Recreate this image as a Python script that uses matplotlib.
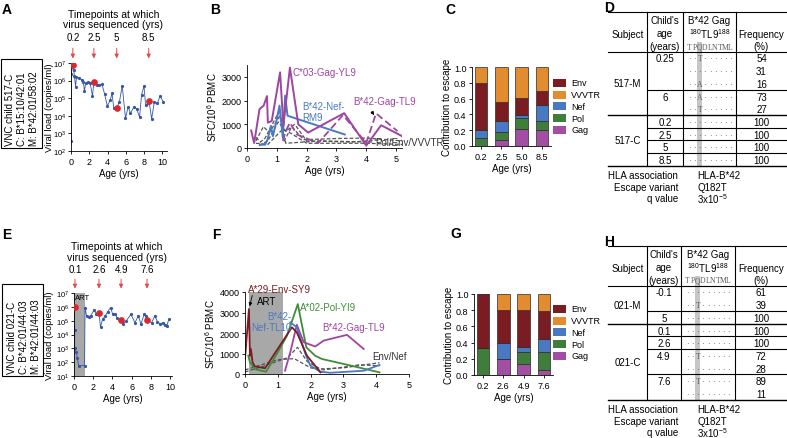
import matplotlib
matplotlib.use('Agg')
import matplotlib.pyplot as plt
import numpy as np
from matplotlib.patches import Rectangle
from matplotlib.ticker import NullLocator

plt.rcParams['font.family'] = ['Liberation Sans', 'DejaVu Sans']
plt.rcParams['font.size'] = 7
plt.rcParams['axes.linewidth'] = 0.6
plt.rcParams['xtick.major.width'] = 0.6
plt.rcParams['ytick.major.width'] = 0.6
plt.rcParams['xtick.major.size'] = 2.5
plt.rcParams['ytick.major.size'] = 2.5
plt.rcParams['xtick.labelsize'] = 6.5
plt.rcParams['ytick.labelsize'] = 6.5
plt.rcParams['xtick.major.pad'] = 1.5
plt.rcParams['ytick.major.pad'] = 1.5
plt.rcParams['axes.labelpad'] = 1.5

W, H = 787, 439

# ---- viral load, child 517-C (log10 copies/ml)
a_age = [0, 0.02, 0.2, 0.3, 0.37, 0.5, 0.6, 0.9, 1.2, 1.36, 1.47, 1.6, 1.84, 2.1, 2.35, 2.5,
         2.83, 3.1, 3.38, 3.68, 3.97, 4.3, 4.49, 4.67, 5.0, 5.3, 5.6, 5.96, 6.25, 6.5, 6.88,
         7.17, 7.5, 7.72, 7.98, 8.16, 8.38, 8.53, 8.82, 9.12, 9.45, 9.74, 10.07]
a_log_vl = [2.55, 6.35, 6.9, 6.6, 6.27, 5.65, 6.2, 6.15, 6.05, 5.9, 5.4, 5.85, 5.9, 5.85, 5.12, 5.9,
            5.75, 5.75, 5.8, 5.23, 4.56, 4.9, 5.27, 4.46, 4.45, 4.8, 5.7, 3.87, 4.5, 4.15, 4.5,
            4.4, 3.94, 5.19, 5.7, 4.6, 4.7, 4.85, 3.83, 4.81, 4.71, 5.12, 4.81]
a_seq_age = [0.2, 2.5, 5.0, 8.5]
a_seq_log_vl = [6.9, 5.9, 4.45, 4.85]
a_seq_labels = ['0.2', '2.5', '5', '8.5']
a_box = ['VNC child 517-C', 'C: B*15:10/42:01', 'M: B*42:01/58:02']

# ---- viral load, child 021-C
e_age = [0.05, 0.07, 0.07, 0.24, 0.34, 0.48, 1.1, 1.15, 1.31, 1.52, 1.72, 2.07, 2.34, 2.6, 2.76,
         2.97, 3.24, 3.52, 3.8, 4.03, 4.28, 4.48, 4.9, 5.1, 5.41, 5.93, 6.34, 6.69, 6.97, 7.31,
         7.52, 7.6, 8.07, 8.41, 8.69, 8.97, 9.24, 9.45, 9.66, 9.86]
e_log_vl = [6.0, 4.3, 3.0, 2.76, 2.3, 1.75, 1.75, 5.95, 5.34, 5.29, 5.34, 5.75, 5.5, 5.58, 4.53,
            5.09, 5.34, 5.66, 5.95, 5.46, 5.5, 5.22, 5.02, 4.77, 4.97, 5.46, 4.85, 5.34, 4.77, 5.46,
            5.34, 5.05, 4.85, 5.34, 4.92, 4.77, 4.85, 4.68, 4.6, 5.09]
e_seq_age = [0.1, 2.6, 4.9, 7.6]
e_seq_log_vl = [6.0, 5.58, 5.02, 5.05]
e_seq_labels = ['0.1', '2.6', '4.9', '7.6']
e_art = [0, 1.15]
e_box = ['VNC child 021-C', 'C: B*42:01/44:03', 'M: B*42:01/44:03']

# ---- ELISpot responses, child 517-C (SFC/10^6 PBMC)
b_c03_gag_age = [0.14, 0.24, 0.42, 0.56, 0.67, 0.7, 0.83, 1.11, 1.22, 1.44, 1.72, 2.05, 3.26, 4.0, 4.5, 5.2]
b_c03_gag_sfc = [740, 210, 1640, 1790, 2190, 1070, 1140, 3190, 930, 3390, 1000, 650, 1470, 100, 960, 500]
b_b42_gag_age = [1.2, 1.3, 1.44, 1.67, 2.39, 3.22, 4.0, 4.33, 5.05]
b_b42_gag_sfc = [300, 710, 1070, 570, 210, 1390, 210, 1460, 710]
b_b42_nef_age = [0.44, 0.61, 0.69, 0.8, 0.87, 1.0, 1.09, 1.2, 1.28, 1.36, 3.28]
b_b42_nef_sfc = [140, 140, 360, 930, 500, 1210, 1790, 430, 2210, 1360, 570]
b_other1_age = [0.3, 0.45, 0.6, 1.1, 1.25, 1.5, 1.9, 3.0, 4.0, 5.2]
b_other1_sfc = [450, 250, 400, 1600, 300, 900, 350, 400, 420, 300]
b_other2_age = [0.3, 0.55, 0.75, 1.1, 1.3, 2.5, 4.2]
b_other2_sfc = [300, 900, 650, 1350, 200, 300, 250]
b_other3_age = [0.4, 0.7, 1.05, 1.3, 1.6, 2.0, 3.5, 4.5]
b_other3_sfc = [100, 300, 1100, 700, 1000, 300, 250, 350]
b_other4_age = [0.3, 0.7, 1.2, 1.5, 2.0, 4.0, 5.2]
b_other4_sfc = [200, 150, 800, 600, 200, 200, 150]

# ---- ELISpot responses, child 021-C
f_a29_env_age = [0, 0.12, 0.15, 0.18, 0.23, 0.3, 0.61, 1.43, 1.58, 1.89, 2.3]
f_a29_env_sfc = [730, 3170, 890, 1220, 570, 370, 280, 2280, 2030, 890, 80]
f_a02_pol_age = [0.1, 0.15, 0.3, 0.64, 0.97, 1.28, 1.61, 1.87, 2.14, 2.35, 3.01, 4.1]
f_a02_pol_sfc = [900, 570, 240, 110, 980, 1870, 3410, 1300, 890, 730, 490, 80]
f_b42_nef_age = [1.38, 1.58, 1.84, 1.99, 2.3, 2.6, 3.62, 4.1]
f_b42_nef_sfc = [2520, 2280, 980, 410, 110, 60, 160, 440]
f_b42_gag_age = [1.22, 1.38, 1.58, 1.79, 2.14, 2.4, 3.11, 3.62]
f_b42_gag_sfc = [160, 1060, 2400, 1550, 1340, 1630, 1910, 1220]
f_other1_age = [0.0, 0.6, 1.3, 1.6, 1.9, 2.3, 3.0, 4.1]
f_other1_sfc = [100, 400, 800, 1300, 600, 250, 300, 550]
f_other2_age = [0.0, 0.6, 1.0, 1.5, 2.0, 2.4, 3.5, 4.1]
f_other2_sfc = [200, 500, 700, 750, 300, 200, 450, 400]
f_art = [0.12, 1.15]

# ---- contribution to escape
genes = ['Gag', 'Pol', 'Nef', 'Env', 'VVVTR']
legend_order = ['Env', 'VVVTR', 'Nef', 'Pol', 'Gag']
gene_colors = {'Env': '#7a1c22', 'VVVTR': '#e38b2f', 'Nef': '#4a79c4',
               'Pol': '#3e7e3a', 'Gag': '#a14ea3'}
c_ages = ['0.2', '2.5', '5.0', '8.5']
c_gag = [0.00, 0.08, 0.22, 0.20]
c_pol = [0.10, 0.10, 0.13, 0.12]
c_nef = [0.10, 0.14, 0.04, 0.20]
c_env = [0.60, 0.24, 0.22, 0.18]
c_vvvtr = [0.20, 0.44, 0.39, 0.30]
g_ages = ['0.2', '2.6', '4.9', '7.6']
g_gag = [0.00, 0.20, 0.13, 0.06]
g_pol = [0.33, 0.00, 0.15, 0.22]
g_nef = [0.00, 0.20, 0.07, 0.17]
g_env = [0.67, 0.40, 0.45, 0.34]
g_vvvtr = [0.00, 0.20, 0.20, 0.21]

# ---- sequence tables ('.' = same as consensus)
consensus = 'TPQDLNTML'
d_subjects = ['517-M', '517-C']
d_ages = [['0.25', '6'], ['0.2', '2.5', '5', '8.5']]
d_seqs = [[['..T......', '.........', '..A......'], ['..A......', '..T......']],
          [['.........'], ['.........'], ['.........'], ['.........']]]
d_freqs = [[[54, 31, 16], [73, 27]], [[100], [100], [100], [100]]]
h_subjects = ['021-M', '021-C']
h_ages = [['-0.1', '5'], ['0.1', '2.6', '4.9', '7.6']]
h_seqs = [[['.........', '..T......'], ['.........']],
          [['.........'], ['.........'], ['..T......', '.........'], ['..T......', '.........']]]
h_freqs = [[[61, 39], [100]], [[100], [100], [72, 28], [89, 11]]]
hla_keys = ['HLA association', 'Escape variant', 'q value']
hla_vals = ['HLA-B*42', 'Q182T', r'3x10$^{\mathdefault{-5}}$']

fig = plt.figure(figsize=(W / 100, H / 100), dpi=100)
fig.patch.set_facecolor('white')


def px_axes(l, t, r, b):
    return fig.add_axes([l / W, 1 - b / H, (r - l) / W, (b - t) / H])


def clean(ax):
    ax.spines['top'].set_visible(False)
    ax.spines['right'].set_visible(False)


ov = fig.add_axes([0, 0, 1, 1])
ov.set_xlim(0, W)
ov.set_ylim(H, 0)
ov.axis('off')

red = '#d8282e'
vl_blue = '#3557a6'


def vl_panel(ax, age, log_vl, seq_age, seq_log, seq_lab, ymin_exp, label_x, art=None):
    clean(ax)
    ax.set_yscale('log')
    if art is not None:
        ax.axvspan(art[0], art[1], color='#a8a8a8', lw=0, zorder=0)
        ax.text(art[0] + 0.1, 10 ** 6.7, 'ART', fontsize=5.5, va='center')
    ax.plot(age, 10 ** np.array(log_vl), color=vl_blue, lw=0.6, marker='o', ms=1.3, zorder=2)
    ax.plot(seq_age, 10 ** np.array(seq_log), 'o', color=red, ms=3.8, zorder=3)
    ax.set_ylim(10.0 ** ymin_exp, 1e7)
    ax.set_yticks([10.0 ** k for k in range(ymin_exp, 8)])
    ax.yaxis.set_minor_locator(NullLocator())
    ax.tick_params(axis='y', labelsize=5.5, pad=1)
    ax.set_xticks([0, 2, 4, 6, 8, 10])
    ax.set_xlabel('Age (yrs)')
    ax.set_ylabel('Viral load (copies/ml)', fontsize=6.8)
    ax.yaxis.set_label_coords(label_x, 0.5)
    tr = ax.get_xaxis_transform()
    for t, lab in zip(seq_age, seq_lab):
        ax.annotate('', xy=(t, 1.02), xycoords=tr, xytext=(t, 1.2), textcoords=tr,
                    arrowprops=dict(arrowstyle='-|>', color='#e04a4e', lw=0.7, mutation_scale=6),
                    annotation_clip=False)
        ax.text(t, 1.29, lab, transform=tr, ha='center', va='center', fontsize=7)
    ax.text(0.44, 1.5, 'Timepoints at which\nvirus sequenced (yrs)', transform=ax.transAxes,
            ha='center', va='center', fontsize=7.5, linespacing=1.05)


axA = px_axes(71, 64, 167, 152)
axA.set_xlim(0, 10.5)
vl_panel(axA, a_age, a_log_vl, a_seq_age, a_seq_log_vl, a_seq_labels, 2, -0.18)
axE = px_axes(74, 294, 172, 377)
axE.set_xlim(0, 10.2)
vl_panel(axE, e_age, e_log_vl, e_seq_age, e_seq_log_vl, e_seq_labels, 1, -0.2, art=e_art)


def id_box(x0, y0, y1, lines, xs):
    ov.add_patch(Rectangle((x0, y0), 41, y1 - y0, fill=False, ec='black', lw=0.8))
    for x, s in zip(xs, lines):
        ov.text(x, y1 - 3, s, rotation=90, rotation_mode='anchor', ha='left', va='center', fontsize=7)


id_box(1, 60, 149, a_box, [10, 22, 34])
id_box(2, 285, 377, e_box, [12, 24, 36])

purple = '#9e45a0'
nef_blue = '#4a79c4'
gray = '#555555'
dash = (3, 1.6)

# ---- B
axB = px_axes(247, 66, 402, 149)
clean(axB)
for xs, ys in [(b_other1_age, b_other1_sfc), (b_other2_age, b_other2_sfc),
               (b_other3_age, b_other3_sfc), (b_other4_age, b_other4_sfc)]:
    axB.plot(xs, ys, color=gray, lw=0.9, dashes=dash)
axB.plot(b_b42_gag_age, b_b42_gag_sfc, color=purple, lw=1.3, dashes=(4, 2))
axB.plot(b_b42_nef_age, b_b42_nef_sfc, color=nef_blue, lw=1.4)
axB.plot(b_c03_gag_age, b_c03_gag_sfc, color=purple, lw=1.4)
axB.set_xlim(0, 5.2)
axB.set_ylim(0, 3500)
axB.set_xticks([0, 1, 2, 3, 4, 5])
axB.set_yticks([0, 1000, 2000, 3000])
axB.set_xlabel('Age (yrs)')
axB.set_ylabel(r'SFC/10$^{\mathdefault{6}}$ PBMC')
axB.text(1.52, 3200, 'C*03-Gag-YL9', color=purple, fontsize=7, va='center')
axB.text(1.85, 1550, 'B*42-Nef-\nRM9', color=nef_blue, fontsize=7, va='center', linespacing=1.1)
axB.text(3.56, 1970, 'B*42-Gag-TL9', color=purple, fontsize=7, va='center', clip_on=False)
axB.text(4.3, 260, 'Pol/Env/VVVTR', color='#333333', fontsize=7, va='center', clip_on=False)
axB.annotate('', xy=(4.32, 1290), xytext=(4.13, 1630),
             arrowprops=dict(arrowstyle='-|>', color='black', lw=0.6, mutation_scale=5))

# ---- F
axF = px_axes(245, 293, 409, 375)
clean(axF)
axF.axvspan(f_art[0], f_art[1], color='#a8a8a8', lw=0, zorder=0)
for xs, ys in [(f_other1_age, f_other1_sfc), (f_other2_age, f_other2_sfc)]:
    axF.plot(xs, ys, color=gray, lw=0.9, dashes=dash)
axF.plot(f_a02_pol_age, f_a02_pol_sfc, color='#3f8d39', lw=1.3)
axF.plot(f_b42_gag_age, f_b42_gag_sfc, color=purple, lw=1.3)
axF.plot(f_b42_nef_age, f_b42_nef_sfc, color=nef_blue, lw=1.3)
axF.plot(f_a29_env_age, f_a29_env_sfc, color='#7a1c22', lw=1.3)
axF.set_xlim(0, 5)
axF.set_ylim(0, 4000)
axF.set_xticks([0, 1, 2, 3, 4, 5])
axF.set_yticks([0, 1000, 2000, 3000, 4000])
axF.set_xlabel('Age (yrs)')
axF.set_ylabel(r'SFC/10$^{\mathdefault{6}}$ PBMC')
axF.text(0.1, 4150, 'A*29-Env-SY9', color='#7a1c22', fontsize=7, va='center', clip_on=False)
axF.text(0.37, 3560, 'ART', color='black', fontsize=7, va='center')
axF.text(1.42, 2560, 'B*42-\nNef-TL10', color=nef_blue, fontsize=7, va='center', ha='right',
         multialignment='right', linespacing=1.1)
axF.text(1.68, 3270, 'A*02-Pol-YI9', color='#3f8d39', fontsize=7, va='center')
axF.text(2.35, 2290, 'B*42-Gag-TL9', color=purple, fontsize=7, va='center')
axF.text(3.88, 880, 'Env/Nef', color='#333333', fontsize=7, va='center', clip_on=False)
axF.annotate('', xy=(0.12, 3170), xytext=(0.24, 3960),
             arrowprops=dict(arrowstyle='-|>', color='black', lw=0.6, mutation_scale=5),
             annotation_clip=False)


# ---- C and G
def escape_panel(ax, ages, parts):
    clean(ax)
    x = np.arange(len(ages))
    bottom = np.zeros(len(ages))
    for g in genes:
        vals = np.array(parts[g])
        ax.bar(x, vals, bottom=bottom, width=0.62, color=gene_colors[g], edgecolor='#2a2a2a', lw=0.5)
        bottom += vals
    ax.set_xlim(-0.45, 3.45)
    ax.set_ylim(0, 1)
    ax.set_xticks(x, labels=ages)
    ax.set_yticks(np.linspace(0, 1, 6), labels=['0.0', '0.2', '0.4', '0.6', '0.8', '1.0'])
    ax.set_xlabel('Age (yrs)')
    ax.set_ylabel('Contribution to escape')


axC = px_axes(472, 68, 551, 147)
escape_panel(axC, c_ages, {'Gag': c_gag, 'Pol': c_pol, 'Nef': c_nef, 'Env': c_env, 'VVVTR': c_vvvtr})
axG = px_axes(474, 295, 553, 376)
escape_panel(axG, g_ages, {'Gag': g_gag, 'Pol': g_pol, 'Nef': g_nef, 'Env': g_env, 'VVVTR': g_vvvtr})


def gene_legend(y0):
    for i, g in enumerate(legend_order):
        y = y0 + i * 11.7
        ov.add_patch(Rectangle((553, y - 4), 13, 8, fc=gene_colors[g], ec='none'))
        ov.text(571, y, g, fontsize=6.5, va='center')


gene_legend(84)
gene_legend(310)


# ---- tables
def seq_table(top, xs, xf, subjects, ages, seqs, freqs):
    rh = 12.7
    x0, x1, x4 = 608, 647, 787
    hb = top + 39.5
    nsub = sum(len(s) for grp in seqs for s in grp)
    bot = hb + nsub * rh
    cw = 5.1
    sx = xs + 4
    ov.add_patch(Rectangle((sx + 2 * cw, top + 30), cw, bot - top - 30, fc='#c6c6c6', ec='none', zorder=0))
    ov.plot([x0, x4], [top, top], color='black', lw=0.8)
    ov.plot([x0, x4], [hb, hb], color='black', lw=0.8)
    for x in (x1, xs, xf):
        ov.plot([x, x], [top, bot], color='black', lw=0.8)
    ov.text((x0 + x1) / 2, top + 22, 'Subject', ha='center', va='center')
    for k, s in enumerate(["Child's", 'age', '(years)']):
        ov.text((x1 + xs) / 2, top + 8 + 13 * k, s, ha='center', va='center')
    ov.text((xs + xf) / 2, top + 8, 'B*42 Gag', ha='center', va='center')
    ov.text((xs + xf) / 2, top + 21, r'$^{\mathdefault{180}}$TL9$^{\mathdefault{188}}$',
            ha='center', va='center')
    for i, ch in enumerate(consensus):
        ov.text(sx + (i + 0.5) * cw, top + 34.5, ch, ha='center', va='center', fontsize=5.5,
                family='Liberation Serif', color='#5a5a5a')
    ov.text((xf + x4) / 2, top + 22, 'Frequency', ha='center', va='center')
    ov.text((xf + x4) / 2, top + 34.5, '(%)', ha='center', va='center')
    y = hb
    for gi, subj in enumerate(subjects):
        gtop = y
        for ai, age in enumerate(ages[gi]):
            ov.text((x1 + xs) / 2, y + rh * 0.55, age, ha='center', va='center')
            for s, f in zip(seqs[gi][ai], freqs[gi][ai]):
                yy = y + rh * 0.55
                for i, ch in enumerate(s):
                    ov.text(sx + (i + 0.5) * cw, yy, '·' if ch == '.' else ch, ha='center',
                            va='center', fontsize=5.5, family='Liberation Serif', color='#5a5a5a')
                ov.text((xf + x4) / 2, yy, str(f), ha='center', va='center')
                y += rh
            if ai < len(ages[gi]) - 1:
                ov.plot([x1, x4], [y, y], color='black', lw=0.8)
        ov.plot([x0, x4], [y, y], color='black', lw=1.0)
        ov.text((x0 + x1) / 2, (gtop + y) / 2, subj, ha='center', va='center')
    for k, (key, val) in enumerate(zip(hla_keys, hla_vals)):
        yy = bot + 9.5 + 11.6 * k
        ov.text(678, yy, key, ha='right', va='center')
        ov.text(697, yy, val, ha='left', va='center')


seq_table(13, 683, 736, d_subjects, d_ages, d_seqs, d_freqs)
seq_table(247, 681, 735, h_subjects, h_ages, h_seqs, h_freqs)

for lab, x, y in [('A', 2, 10), ('B', 210, 10), ('C', 445, 10), ('D', 604, 8),
                  ('E', 2, 235), ('F', 212, 235), ('G', 450, 234), ('H', 604, 242)]:
    fig.text(x / W, 1 - y / H, lab, fontsize=10, fontweight='bold', va='center')

fig.savefig('out.png', dpi=100, facecolor='white')
